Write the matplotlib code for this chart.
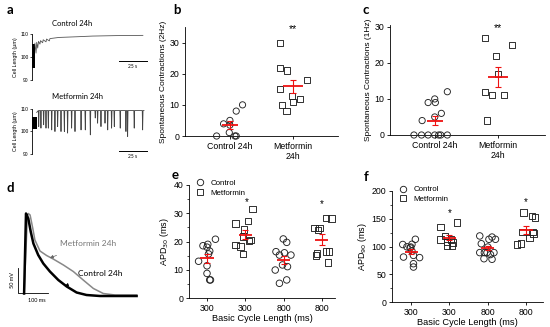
import matplotlib
matplotlib.use("Agg")
import matplotlib.pyplot as plt
from matplotlib.lines import Line2D
from matplotlib.ticker import MultipleLocator
import numpy as np

plt.rcParams["font.family"] = ["Liberation Sans", "DejaVu Sans"]
plt.rcParams["axes.linewidth"] = 0.6
plt.rcParams["xtick.major.width"] = 0.6
plt.rcParams["ytick.major.width"] = 0.6
plt.rcParams["ytick.minor.width"] = 0.5

W, H = 550, 327
SANS2 = ["Lato", "DejaVu Sans"]
RED = "#ee1111"

# ── panel a: cell length traces (time in s, length in um) ─────────────────────
ctl_block_t = [0.0, 2.6]
ctl_block_lo = [95.3, 95.3]
ctl_block_hi = [105.6, 105.6]
ctl_trace_t = [2.6, 3.6, 4.2, 5.1, 5.8, 7.1, 7.6, 9.5, 10.0, 12.5, 13.0,
               15.5, 16.0, 24.0, 40.0, 54.0, 75.0, 99.0]
ctl_trace_v = [106.0, 101.7, 106.4, 103.9, 106.8, 105.6, 107.1, 106.2, 107.5,
               106.6, 107.8, 107.0, 108.0, 108.5, 108.8, 109.1, 109.3, 109.4]

met_block_t = [0.0, 4.2]
met_block_lo = [101.0, 101.0]
met_block_hi = [106.5, 106.5]
met_base = 109.3
met_spike_t = [6.0, 8.0, 10.4, 12.5, 14.6, 17.6, 20.5, 22.9, 25.9, 28.9, 31.8,
               35.4, 38.4, 43.8, 47.6, 52.1, 56.5, 58.6, 61.6, 65.2, 67.6,
               71.1, 73.5, 78.8, 83.9, 85.4, 91.3, 98.8]
met_spike_min = [102.2, 101.5, 103.0, 101.5, 101.5, 100.7, 100.0, 102.2, 100.0,
                 100.0, 99.3, 101.5, 100.0, 100.7, 100.7, 98.5, 106.0, 103.7,
                 102.2, 103.7, 100.7, 101.5, 102.2, 101.5, 100.0, 97.8, 101.5,
                 100.7]

# ── panel b / c: spontaneous contractions ─────────────────────────────────────
bc_labels = ["Control 24h", "Metformin\n24h"]
b_ctl = [0, 3.9, 5, 1.1, 0, 0, 8, 10, 3.5]
b_ctl_dx = [-0.21, -0.1, 0.0, -0.01, 0.08, 0.1, 0.1, 0.2, 0.0]
b_met = [29.9, 21.8, 21, 15.1, 12.9, 11.9, 11, 9.9, 8.1, 18]
b_met_dx = [-0.21, -0.21, -0.095, -0.21, -0.02, 0.105, 0.0, -0.18, -0.105, 0.22]
b_star_y = 34.2

c_ctl = [0, 0, 0, 0, 0, 0, 0, 4, 9, 10, 9, 5, 6, 12]
c_ctl_dx = [-0.33, -0.21, -0.105, 0.0, 0.063, 0.095, 0.2,
            -0.2, -0.105, 0.0, 0.01, 0.0, 0.105, 0.2]
c_met = [27, 25, 22, 17, 12, 11, 11, 4]
c_met_dx = [-0.2, 0.23, -0.026, 0.0, -0.2, -0.095, 0.105, -0.17]
c_star_y = 29.7

# ── panel d: action potentials (ms, mV) ───────────────────────────────────────
ap_ctl_t = [-3, 3.3, 11, 19, 28, 44, 61, 83, 111, 139, 172, 205, 250, 372]
ap_ctl_v = [5, 165, 155, 129, 105, 82, 65, 49, 32, 19, 7, 2, 0, 0]
ap_met_t = [-3, 8, 11, 17, 26, 33, 50, 72, 94, 128, 161, 194, 228, 261, 300, 372]
ap_met_v = [5, 160, 165, 162, 135, 112, 90, 81, 74, 62, 49, 32, 15, 5, 2, 2]

# ── panel e / f: APD vs basic cycle length ────────────────────────────────────
bcl_labels = ["300", "300", "800", "800"]
e_vals = [
    [13, 18.5, 19, 16.6, 15.6, 20.8, 11.4, 8.7, 6.4, 6.4, 18],
    [26.4, 31.5, 27.3, 24.3, 21.7, 18.8, 18.2, 15.6, 20.2, 20.5],
    [20.9, 19.7, 16.4, 15.2, 16, 15.2, 9.9, 11.7, 11.1, 5.2, 6.4],
    [24.7, 24.1, 24.7, 28.4, 28.2, 15.8, 15, 16.4, 16.4, 12.5],
]
e_dx = [
    [-0.22, -0.105, 0.02, 0.07, 0.04, 0.22, 0.0, 0.0, 0.07, 0.09, 0.0],
    [-0.26, 0.19, 0.07, -0.04, -0.06, -0.25, -0.13, -0.06, 0.09, 0.13],
    [-0.01, 0.08, -0.2, -0.11, 0.02, 0.19, -0.22, -0.03, 0.1, -0.11, 0.08],
    [-0.19, -0.105, -0.06, 0.11, 0.25, -0.13, -0.15, 0.11, 0.18, 0.16],
]
e_stars = [(1.03, 34.1), (3.0, 33.2)]

f_vals = [
    [103.6, 99.4, 104, 99, 113, 81, 80, 84, 69, 63, 97.6, 91.6],
    [135.5, 142.8, 118.7, 113, 108, 102, 102, 107, 113],
    [119, 105, 89, 78, 77, 117, 113, 113, 99, 89, 89, 85.5, 89],
    [161, 155, 152, 126.5, 123.5, 126.5, 115.7, 103.6, 105.4],
]
f_dx = [
    [-0.22, -0.11, 0.02, -0.01, 0.11, -0.2, 0.22, 0.06, 0.06, 0.06, -0.03, 0.02],
    [-0.23, 0.19, -0.12, -0.24, -0.07, -0.07, 0.07, 0.09, 0.04],
    [-0.21, -0.17, -0.21, -0.1, 0.11, 0.11, 0.2, 0.03, 0.0, -0.02, -0.09, 0.07, 0.16],
    [-0.07, 0.15, 0.23, 0.17, 0.19, -0.09, 0.09, -0.24, -0.14],
]
f_stars = [(1.02, 161), (3.0, 179.5)]
group_markers = ["o", "s", "o", "s"]


def px_axes(fig, x0, y0, x1, y1):
    # pixel box (left, top, right, bottom) -> axes
    return fig.add_axes([x0 / W, 1 - y1 / H, (x1 - x0) / W, (y1 - y0) / H])


def mean_sem(ax, x, vals, half=0.17):
    v = np.asarray(vals, float)
    m = v.mean()
    se = v.std(ddof=1) / np.sqrt(len(v))
    ax.errorbar(x, m, yerr=se, fmt="none", ecolor=RED, elinewidth=0.8,
                capsize=2.3, capthick=0.8, zorder=5, clip_on=False)
    ax.hlines(m, x - half, x + half, color=RED, lw=1.3, zorder=5)


def dots(ax, x, vals, dx, marker, s=20):
    ax.scatter(np.array(dx) + x, vals, marker=marker, s=s, facecolors="none",
               edgecolors="#222222", linewidths=0.65, zorder=4, clip_on=False)


def style_scatter_axes(ax):
    ax.spines[["top", "right"]].set_visible(False)
    ax.tick_params(labelsize=6.3, length=2.5, pad=1.5)


fig = plt.figure(figsize=(W / 100, H / 100), dpi=100)
fig.patch.set_facecolor("white")

# ── panel a ───────────────────────────────────────────────────────────────────
axa1 = px_axes(fig, 32, 34, 147, 80)
axa2 = px_axes(fig, 32, 109, 147, 154)
for ax in (axa1, axa2):
    ax.set_xlim(0, 102.7)
    ax.set_ylim(90, 110)
    ax.spines[["top", "right", "bottom"]].set_visible(False)
    ax.set_xticks([])
    ax.set_yticks([90, 100, 110])
    ax.tick_params(axis="y", labelsize=3.5, length=1.5, pad=1, width=0.5)
    ax.set_ylabel("Cell Length (\u00b5m)", fontsize=3.8, labelpad=2)

axa1.fill_between(ctl_block_t, ctl_block_lo, ctl_block_hi, color="black", lw=0)
axa1.plot(ctl_trace_t, ctl_trace_v, color="#555555", lw=0.6)
axa1.plot([77.7, 102.7], [98.3, 98.3], color="black", lw=0.7, clip_on=False)
axa1.text(90.2, 96.0, "25 s", fontsize=3.5, ha="center", va="center", family=SANS2)

axa2.fill_between(met_block_t, met_block_lo, met_block_hi, color="black", lw=0)
mt, mv = [met_block_t[-1]], [met_base - 0.8]
for t, v in zip(met_spike_t, met_spike_min):
    mt += [t - 0.35, t, t + 0.35]
    mv += [met_base, v, met_base]
mt.append(100.0)
mv.append(met_base)
axa2.plot(mt, mv, color="#444444", lw=0.6)
axa2.plot([77.7, 102.7], [91.3, 91.3], color="black", lw=0.7, clip_on=False)
axa2.text(90.2, 88.7, "25 s", fontsize=3.5, ha="center", va="center",
          family=SANS2, clip_on=False)

fig.text(72 / W, 1 - 24 / H, "Control 24h", fontsize=5.5, ha="center",
         va="center", family=SANS2)
fig.text(77 / W, 1 - 97 / H, "Metformin 24h", fontsize=5.5, ha="center",
         va="center", family=SANS2)

# ── panel b ───────────────────────────────────────────────────────────────────
axb = px_axes(fig, 185, 27, 338, 136)
dots(axb, 0, b_ctl, b_ctl_dx, "o")
dots(axb, 1, b_met, b_met_dx, "s")
mean_sem(axb, 0, b_ctl, 0.13)
mean_sem(axb, 1, b_met, 0.16)
axb.set_xlim(-0.71, 1.71)
axb.set_ylim(0, 35)
axb.set_yticks([0, 10, 20, 30])
axb.set_xticks([0, 1])
axb.set_xticklabels(bc_labels)
axb.set_ylabel("Spontaneous Contractions (2Hz)", fontsize=6, labelpad=2)
style_scatter_axes(axb)
axb.text(1, b_star_y, "**", fontsize=7.5, ha="center", va="center")

# ── panel c ───────────────────────────────────────────────────────────────────
axc = px_axes(fig, 390, 25, 545, 135)
dots(axc, 0, c_ctl, c_ctl_dx, "o")
dots(axc, 1, c_met, c_met_dx, "s")
mean_sem(axc, 0, c_ctl, 0.13)
mean_sem(axc, 1, c_met, 0.16)
axc.set_xlim(-0.71, 1.75)
axc.set_ylim(0, 30.5)
axc.set_yticks([0, 10, 20, 30])
axc.set_xticks([0, 1])
axc.set_xticklabels(bc_labels)
axc.set_ylabel("Spontaneous Contractions (1Hz)", fontsize=6, labelpad=2)
style_scatter_axes(axc)
axc.text(1, c_star_y, "**", fontsize=7.5, ha="center", va="center")

# ── panel d ───────────────────────────────────────────────────────────────────
axd = px_axes(fig, 10, 200, 145, 310)
axd.set_xlim(-50, 400)
axd.set_ylim(-28, 192)
axd.axis("off")
axd.plot(ap_met_t, ap_met_v, color="#888888", lw=1.1)
axd.plot(ap_ctl_t, ap_ctl_v, color="black", lw=1.8)
axd.plot([-23, -23, 77], [56, 6, 6], color="black", lw=0.6)
axd.text(-40, 31, "50 mV", rotation=90, fontsize=4, ha="center", va="center",
         family=SANS2)
axd.text(40, -10, "100 ms", fontsize=4, ha="center", va="center", family=SANS2)
axd.annotate("Metformin 24h", xy=(83, 76), xytext=(210, 106), fontsize=6,
             color="#777777", ha="center", va="center", family=SANS2,
             arrowprops=dict(arrowstyle="-|>", color="#666666", lw=0.5,
                             mutation_scale=5, shrinkA=12, shrinkB=0))
axd.annotate("Control 24h", xy=(133, 20), xytext=(250, 46), fontsize=6,
             color="black", ha="center", va="center", family=SANS2,
             arrowprops=dict(arrowstyle="-|>", color="black", lw=0.5,
                             mutation_scale=5, shrinkA=12, shrinkB=0))


# ── panels e / f ──────────────────────────────────────────────────────────────
def apd_panel(ax, vals, dxs, stars, ylim, major, minor, ylabel, xlim):
    for i, (v, dx) in enumerate(zip(vals, dxs)):
        dots(ax, i, v, dx, group_markers[i], s=22)
        mean_sem(ax, i, v, 0.17)
    for sx, sy in stars:
        ax.text(sx, sy, "*", fontsize=7, ha="center", va="center")
    ax.set_xlim(*xlim)
    ax.set_ylim(*ylim)
    ax.yaxis.set_major_locator(MultipleLocator(major))
    ax.yaxis.set_minor_locator(MultipleLocator(minor))
    ax.tick_params(axis="y", which="minor", length=1.5)
    ax.set_xticks(range(len(bcl_labels)))
    ax.set_xticklabels(bcl_labels)
    ax.set_xlabel("Basic Cycle Length (ms)", fontsize=6.7, labelpad=1)
    ax.set_ylabel(ylabel, fontsize=6.5, labelpad=2)
    style_scatter_axes(ax)
    handles = [Line2D([], [], marker="o", ls="none", mfc="none", mec="#222222",
                      ms=4.6, mew=0.65),
               Line2D([], [], marker="s", ls="none", mfc="none", mec="#222222",
                      ms=4.6, mew=0.65)]
    ax.legend(handles, ["Control", "Metformin"], loc="upper left",
              bbox_to_anchor=(0.015, 1.09), frameon=False, fontsize=5.7,
              handlelength=1.0, handletextpad=0.8, labelspacing=0.25,
              borderaxespad=0.2)


axe = px_axes(fig, 189, 185, 335, 298)
apd_panel(axe, e_vals, e_dx, e_stars, (0, 40), 10, 5,
          "APD$_{30}$ (ms)", (-0.47, 3.34))

axf = px_axes(fig, 392, 191, 543, 302)
apd_panel(axf, f_vals, f_dx, f_stars, (0, 200), 50, 25,
          "APD$_{90}$ (ms)", (-0.5, 3.44))

# ── panel letters ─────────────────────────────────────────────────────────────
for lx, ly, lab in [(10, 10, "a"), (177, 10, "b"), (366, 10, "c"),
                    (10, 188, "d"), (175, 175, "e"), (366, 177, "f")]:
    fig.text(lx / W, 1 - ly / H, lab, fontsize=9.5, fontweight="bold",
             ha="center", va="center", family=SANS2)

fig.savefig("out.png", dpi=100, facecolor="white")
plt.close(fig)
